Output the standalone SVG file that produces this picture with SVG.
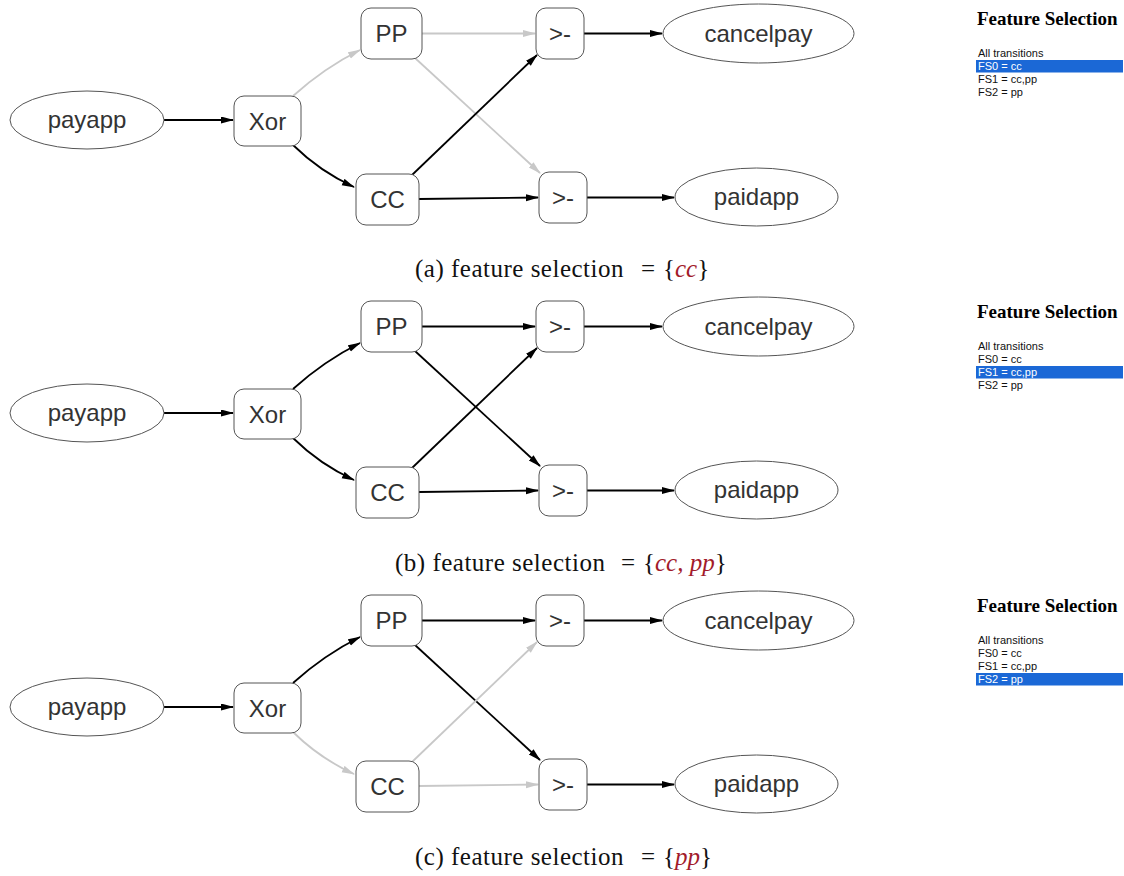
<svg xmlns="http://www.w3.org/2000/svg" width="1124" height="876" viewBox="0 0 1124 876">
<defs>
<style>
.node rect, .node ellipse {fill:#fff; stroke:#555; stroke-width:1}
.lbl {font-family:"Liberation Sans",Arial,sans-serif; font-size:24px; fill:#333; text-anchor:middle}
.e {fill:none; stroke-width:1.8}
.on {stroke:#000; marker-end:url(#ab)}
.off {stroke:#c8c8c8; marker-end:url(#ag)}
.cap {font-family:"Liberation Serif","Times New Roman",serif; font-size:25px; fill:#111}
.pre {letter-spacing:0.5px}
.it {font-style:italic; fill:#a21b2b}
.fst {font-family:"Liberation Serif","Times New Roman",serif; font-size:19px; font-weight:bold; fill:#000}
.fsi {font-family:"Liberation Sans",Arial,sans-serif; font-size:11px; fill:#111}
.sel {fill:#1b68d6}
.selt {fill:#fff}
</style>
<marker id="ab" markerUnits="userSpaceOnUse" markerWidth="14" markerHeight="8" refX="12" refY="3.5" orient="auto"><path d="M0,0 L13,3.5 L0,7 z" fill="#000"/></marker>
<marker id="ag" markerUnits="userSpaceOnUse" markerWidth="14" markerHeight="8" refX="12" refY="3.5" orient="auto"><path d="M0,0 L13,3.5 L0,7 z" fill="#c8c8c8"/></marker>
</defs>
<rect width="1124" height="876" fill="#fff"/>

<!-- Panel A -->
<g id="panel-a">
<g id="a-edges">
<path class="e on" d="M164,120 L233,120"/>
<path class="e off" d="M293,96 Q324,68 360,50"/>
<path class="e on" d="M293,145 Q320,171.5 354,187"/>
<path class="e off" d="M422,33.5 L535,33.5"/>
<path class="e off" d="M415,58 L540,173"/>
<path class="e on" d="M412,175 L537,55"/>
<path class="e on" d="M419,199 L538,197.5"/>
<path class="e on" d="M584,33.5 L662,33.5"/>
<path class="e on" d="M587,197.5 L674,197.5"/>
</g>
<g id="a-payapp" class="node"><ellipse cx="87" cy="120" rx="77" ry="29"/><text class="lbl" x="87" y="128">payapp</text></g>
<g id="a-xor" class="node"><rect x="234" y="96" width="67" height="50" rx="10"/><text class="lbl" x="267.5" y="129.5">Xor</text></g>
<g id="a-pp" class="node"><rect x="361" y="8" width="61" height="51" rx="10"/><text class="lbl" x="391.5" y="42">PP</text></g>
<g id="a-cc" class="node"><rect x="356" y="174" width="63" height="51" rx="10"/><text class="lbl" x="387.5" y="208">CC</text></g>
<g id="a-seq1" class="node"><rect x="536" y="8" width="48" height="51" rx="10"/><text class="lbl" x="560" y="42">&gt;-</text></g>
<g id="a-seq2" class="node"><rect x="539" y="172" width="48" height="51" rx="10"/><text class="lbl" x="563" y="206">&gt;-</text></g>
<g id="a-cancelpay" class="node"><ellipse cx="758.5" cy="33.5" rx="95.5" ry="29.5"/><text class="lbl" x="758.5" y="41.5">cancelpay</text></g>
<g id="a-paidapp" class="node"><ellipse cx="756.5" cy="197" rx="81.5" ry="29"/><text class="lbl" x="756.5" y="205">paidapp</text></g>
<g id="a-caption">
<text class="cap pre" x="415" y="277">(a) feature selection</text>
<text class="cap" x="641" y="277">=</text>
<text class="cap" x="663" y="277">{<tspan class="it">cc</tspan>}</text>
</g>
<g id="a-fs">
<text class="fst" x="977" y="25">Feature Selection</text>
<rect class="sel" x="976" y="60" width="147" height="12.5"/>
<text class="fsi" x="978" y="56.5">All transitions</text>
<text class="fsi selt" x="978" y="69.5">FS0 = cc</text>
<text class="fsi" x="978" y="82.5">FS1 = cc,pp</text>
<text class="fsi" x="978" y="95.5">FS2 = pp</text>
</g>
</g>

<!-- Panel B -->
<g id="panel-b" transform="translate(0,293)">
<g id="b-edges">
<path class="e on" d="M164,120 L233,120"/>
<path class="e on" d="M293,96 Q324,68 360,50"/>
<path class="e on" d="M293,145 Q320,171.5 354,187"/>
<path class="e on" d="M422,33.5 L535,33.5"/>
<path class="e on" d="M415,58 L540,173"/>
<path class="e on" d="M412,175 L537,55"/>
<path class="e on" d="M419,199 L538,197.5"/>
<path class="e on" d="M584,33.5 L662,33.5"/>
<path class="e on" d="M587,197.5 L674,197.5"/>
</g>
<g id="b-payapp" class="node"><ellipse cx="87" cy="120" rx="77" ry="29"/><text class="lbl" x="87" y="128">payapp</text></g>
<g id="b-xor" class="node"><rect x="234" y="96" width="67" height="50" rx="10"/><text class="lbl" x="267.5" y="129.5">Xor</text></g>
<g id="b-pp" class="node"><rect x="361" y="8" width="61" height="51" rx="10"/><text class="lbl" x="391.5" y="42">PP</text></g>
<g id="b-cc" class="node"><rect x="356" y="174" width="63" height="51" rx="10"/><text class="lbl" x="387.5" y="208">CC</text></g>
<g id="b-seq1" class="node"><rect x="536" y="8" width="48" height="51" rx="10"/><text class="lbl" x="560" y="42">&gt;-</text></g>
<g id="b-seq2" class="node"><rect x="539" y="172" width="48" height="51" rx="10"/><text class="lbl" x="563" y="206">&gt;-</text></g>
<g id="b-cancelpay" class="node"><ellipse cx="758.5" cy="33.5" rx="95.5" ry="29.5"/><text class="lbl" x="758.5" y="41.5">cancelpay</text></g>
<g id="b-paidapp" class="node"><ellipse cx="756.5" cy="197" rx="81.5" ry="29"/><text class="lbl" x="756.5" y="205">paidapp</text></g>
<g id="b-caption">
<text class="cap pre" x="395" y="278">(b) feature selection</text>
<text class="cap" x="621" y="278">=</text>
<text class="cap" x="643" y="278">{<tspan class="it">cc, pp</tspan>}</text>
</g>
<g id="b-fs">
<text class="fst" x="977" y="25">Feature Selection</text>
<rect class="sel" x="976" y="73" width="147" height="12.5"/>
<text class="fsi" x="978" y="56.5">All transitions</text>
<text class="fsi" x="978" y="69.5">FS0 = cc</text>
<text class="fsi selt" x="978" y="82.5">FS1 = cc,pp</text>
<text class="fsi" x="978" y="95.5">FS2 = pp</text>
</g>
</g>

<!-- Panel C -->
<g id="panel-c" transform="translate(0,587)">
<g id="c-edges">
<path class="e on" d="M164,120 L233,120"/>
<path class="e on" d="M293,96 Q324,68 360,50"/>
<path class="e off" d="M293,145 Q320,171.5 354,187"/>
<path class="e on" d="M422,33.5 L535,33.5"/>
<path class="e on" d="M415,58 L540,173"/>
<path class="e off" d="M412,175 L537,55"/>
<path class="e off" d="M419,199 L538,197.5"/>
<path class="e on" d="M584,33.5 L662,33.5"/>
<path class="e on" d="M587,197.5 L674,197.5"/>
</g>
<g id="c-payapp" class="node"><ellipse cx="87" cy="120" rx="77" ry="29"/><text class="lbl" x="87" y="128">payapp</text></g>
<g id="c-xor" class="node"><rect x="234" y="96" width="67" height="50" rx="10"/><text class="lbl" x="267.5" y="129.5">Xor</text></g>
<g id="c-pp" class="node"><rect x="361" y="8" width="61" height="51" rx="10"/><text class="lbl" x="391.5" y="42">PP</text></g>
<g id="c-cc" class="node"><rect x="356" y="174" width="63" height="51" rx="10"/><text class="lbl" x="387.5" y="208">CC</text></g>
<g id="c-seq1" class="node"><rect x="536" y="8" width="48" height="51" rx="10"/><text class="lbl" x="560" y="42">&gt;-</text></g>
<g id="c-seq2" class="node"><rect x="539" y="172" width="48" height="51" rx="10"/><text class="lbl" x="563" y="206">&gt;-</text></g>
<g id="c-cancelpay" class="node"><ellipse cx="758.5" cy="33.5" rx="95.5" ry="29.5"/><text class="lbl" x="758.5" y="41.5">cancelpay</text></g>
<g id="c-paidapp" class="node"><ellipse cx="756.5" cy="197" rx="81.5" ry="29"/><text class="lbl" x="756.5" y="205">paidapp</text></g>
<g id="c-caption">
<text class="cap pre" x="415" y="278">(c) feature selection</text>
<text class="cap" x="641" y="278">=</text>
<text class="cap" x="663" y="278">{<tspan class="it">pp</tspan>}</text>
</g>
<g id="c-fs">
<text class="fst" x="977" y="25">Feature Selection</text>
<rect class="sel" x="976" y="86" width="147" height="12.5"/>
<text class="fsi" x="978" y="56.5">All transitions</text>
<text class="fsi" x="978" y="69.5">FS0 = cc</text>
<text class="fsi" x="978" y="82.5">FS1 = cc,pp</text>
<text class="fsi selt" x="978" y="95.5">FS2 = pp</text>
</g>
</g>
</svg>
